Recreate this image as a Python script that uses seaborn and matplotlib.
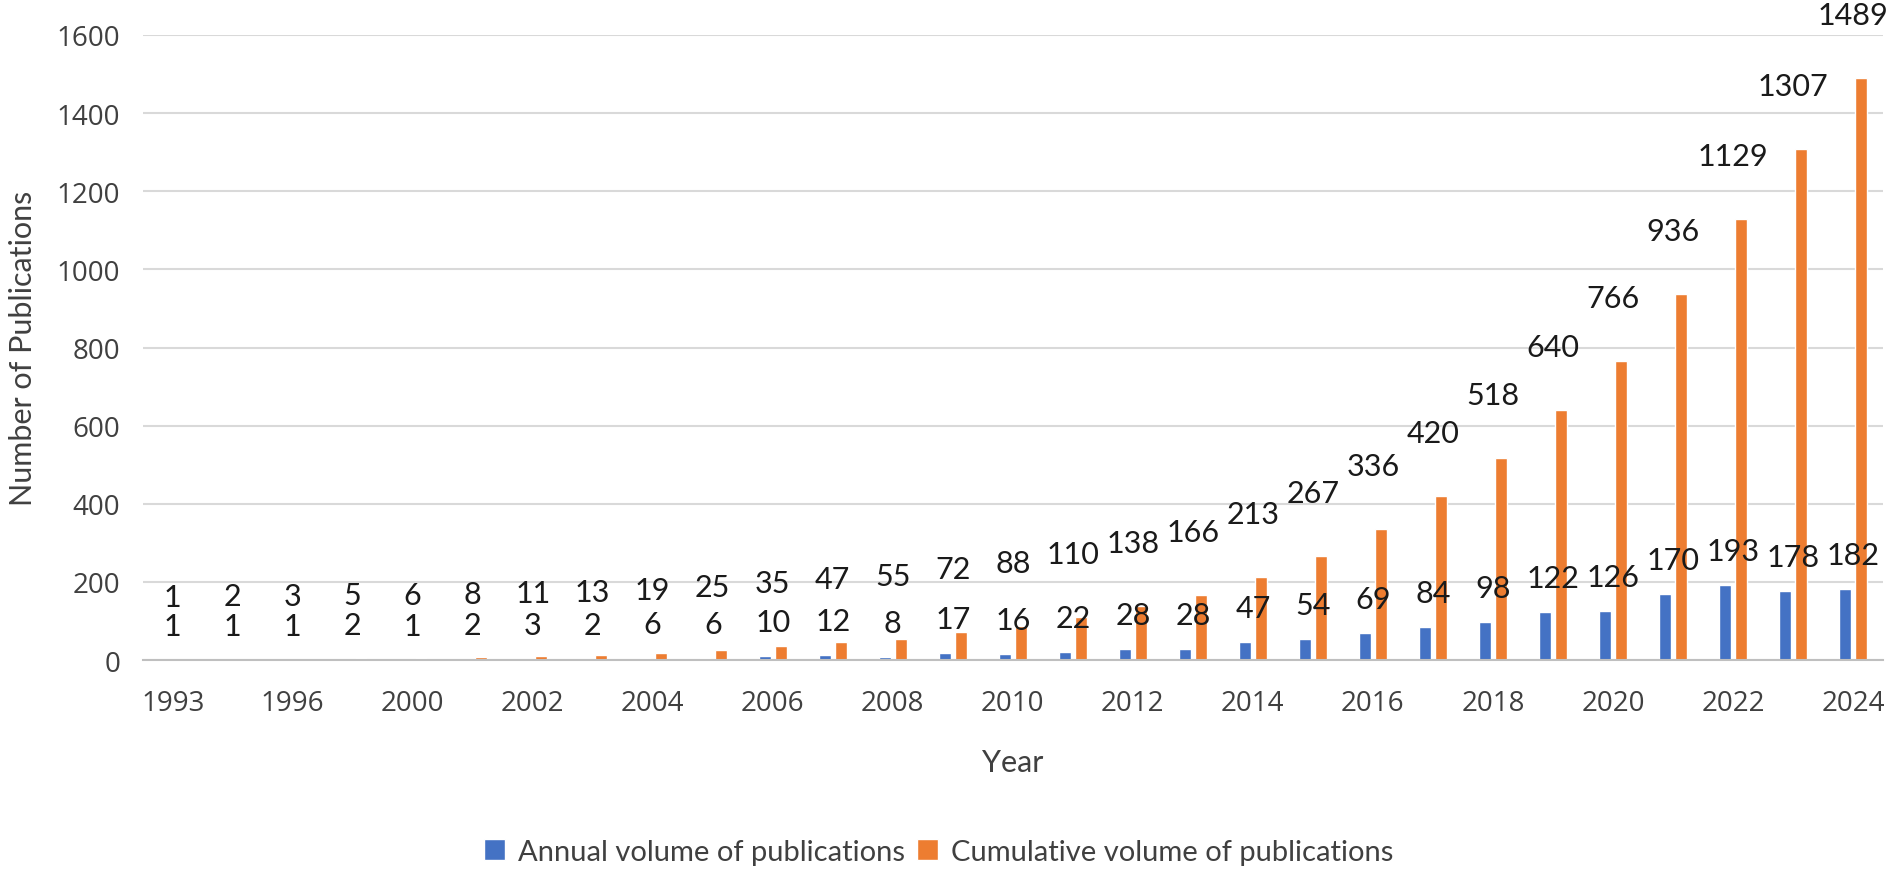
import pandas as pd
import matplotlib
matplotlib.use('Agg')
import matplotlib.pyplot as plt
import seaborn as sns

# Data
years = ['1993', '1995', '1996', '1998', '2000', '2001', '2002', '2003', '2004',
         '2005', '2006', '2007', '2008', '2009', '2010', '2011', '2012', '2013',
         '2014', '2015', '2016', '2017', '2018', '2019', '2020', '2021', '2022',
         '2023', '2024']
annual = [1, 1, 1, 2, 1, 2, 3, 2, 6, 6, 10, 12, 8, 17, 16, 22, 28, 28, 47, 54,
          69, 84, 98, 122, 126, 170, 193, 178, 182]
cumulative = [1, 2, 3, 5, 6, 8, 11, 13, 19, 25, 35, 47, 55, 72, 88, 110, 138, 166,
              213, 267, 336, 420, 518, 640, 766, 936, 1129, 1307, 1489]
series_names = ['Annual volume of publications', 'Cumulative volume of publications']
y_ticks = [0, 200, 400, 600, 800, 1000, 1200, 1400, 1600]

blue = '#4472C4'
orange = '#ED7D31'

df = pd.DataFrame({
    'year': years * 2,
    'count': annual + cumulative,
    'series': [series_names[0]] * len(years) + [series_names[1]] * len(years),
})

sns.set_style('white')
plt.rcParams['font.family'] = ['Open Sans', 'DejaVu Sans']

fig = plt.figure(figsize=(19.02, 8.78), dpi=100)
ax = fig.add_axes([0.075, 0.247, 0.915, 0.712])

sns.barplot(data=df, x='year', y='count', hue='series', order=years,
            hue_order=series_names, palette=[blue, orange],
            width=0.53, gap=0.25, saturation=1, ax=ax, legend=True)

ax.set_ylim(0, 1600)
ax.set_xlim(-0.5, len(years) - 0.5)
ax.set_yticks(y_ticks)
ax.set_yticklabels([str(t) for t in y_ticks])
ax.set_xticks(range(0, len(years), 2))
ax.set_xticklabels(years[::2])
ax.tick_params(axis='both', length=0, labelsize=20, colors='#404040')
ax.tick_params(axis='x', pad=21)
ax.tick_params(axis='y', pad=16)

ax.grid(axis='y', color='#D9D9D9', linewidth=1.5)
ax.set_axisbelow(True)
for s in ['top', 'right', 'left']:
    ax.spines[s].set_visible(False)
ax.spines['bottom'].set_color('#BFBFBF')
ax.spines['bottom'].set_linewidth(1.5)

ax.set_xlabel('Year', fontsize=22, color='#404040', labelpad=22, family='Lato')
ax.set_ylabel('Number of Publications', fontsize=22, color='#404040', labelpad=14,
              family='Lato')

# data labels centred on each year, above the bar tops
for i in range(len(years)):
    ax.annotate(str(annual[i]), (i, annual[i]), xytext=(0, 34),
                textcoords='offset pixels', ha='center', va='center',
                fontsize=22, color='#1a1a1a', family='Lato')
    ax.annotate(str(cumulative[i]), (i, cumulative[i]), xytext=(0, 63),
                textcoords='offset pixels', ha='center', va='center',
                fontsize=22, color='#1a1a1a', family='Lato', annotation_clip=False)

handles, labels = ax.get_legend_handles_labels()
ax.legend_.remove()
fig.legend(handles, labels, loc='center', bbox_to_anchor=(0.4937, 0.0285), ncol=2,
           frameon=False, handlelength=0.72, handleheight=0.72,
           handletextpad=0.45, columnspacing=0.4, labelcolor='#404040',
           prop={'family': 'Lato', 'size': 21})

fig.savefig('out.png', dpi=100)
